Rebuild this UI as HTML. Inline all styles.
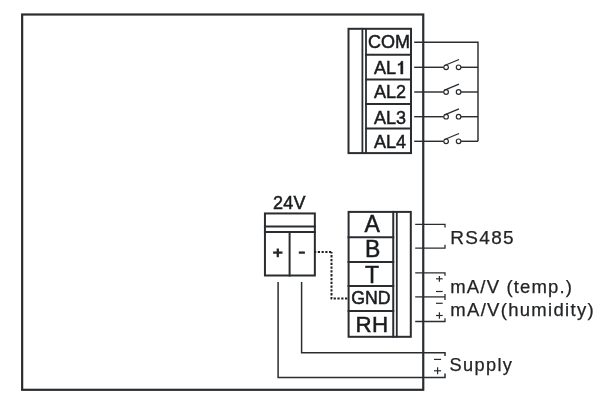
<!DOCTYPE html>
<html>
<head>
<meta charset="utf-8">
<style>
html,body{margin:0;padding:0;background:#fff;}
body{width:614px;height:404px;overflow:hidden;position:relative;}
svg{position:absolute;left:0;top:0;will-change:transform;}
text{font-family:"Liberation Sans", sans-serif;fill:#191b1d;stroke:#191b1d;stroke-width:0.5px;}
</style>
</head>
<body>
<svg width="614" height="404" viewBox="0 0 614 404">
<g fill="none" stroke="#2a2d30" stroke-linecap="square">
  <!-- main box -->
  <rect x="22.15" y="14.5" width="401.1" height="375.3" stroke-width="2.2"/>

  <!-- upper terminal block -->
  <rect x="348.5" y="28.8" width="62.5" height="124.3" stroke-width="2"/>
  <line x1="362.4" y1="28.8" x2="362.4" y2="153.1" stroke-width="1.8"/>
  <line x1="366" y1="28.8" x2="366" y2="153.1" stroke-width="1.8"/>
  <line x1="366" y1="54.7" x2="411" y2="54.7" stroke-width="2"/>
  <line x1="366" y1="79.6" x2="411" y2="79.6" stroke-width="2"/>
  <line x1="366" y1="104" x2="411" y2="104" stroke-width="2"/>
  <line x1="366" y1="128.6" x2="411" y2="128.6" stroke-width="2"/>
</g>

<g fill="none" stroke="#2a2d30" stroke-width="1.45">
  <!-- upper wires -->
  <polyline points="414.2,42.3 478,42.3 478,141.3"/>
  <line x1="414.2" y1="67.3" x2="443.6" y2="67.3"/>
  <line x1="461" y1="67.3" x2="478" y2="67.3"/>
  <line x1="414.2" y1="92" x2="443.6" y2="92"/>
  <line x1="461" y1="92" x2="478" y2="92"/>
  <line x1="414.2" y1="116.7" x2="443.6" y2="116.7"/>
  <line x1="461" y1="116.7" x2="478" y2="116.7"/>
  <line x1="414.2" y1="141.3" x2="443.6" y2="141.3"/>
  <line x1="461" y1="141.3" x2="478" y2="141.3"/>
  <!-- switches -->
  <g transform="translate(0,0)">
    <circle cx="446.1" cy="67.3" r="2.3" stroke-width="1.2"/>
    <circle cx="458.6" cy="67.3" r="2.3" stroke-width="1.2"/>
    <line x1="444.6" y1="65.5" x2="459" y2="59.5" stroke-width="1.35"/>
  </g>
  <g transform="translate(0,24.7)">
    <circle cx="446.1" cy="67.3" r="2.3" stroke-width="1.2"/>
    <circle cx="458.6" cy="67.3" r="2.3" stroke-width="1.2"/>
    <line x1="444.6" y1="65.5" x2="459" y2="59.5" stroke-width="1.35"/>
  </g>
  <g transform="translate(0,49.4)">
    <circle cx="446.1" cy="67.3" r="2.3" stroke-width="1.2"/>
    <circle cx="458.6" cy="67.3" r="2.3" stroke-width="1.2"/>
    <line x1="444.6" y1="65.5" x2="459" y2="59.5" stroke-width="1.35"/>
  </g>
  <g transform="translate(0,74)">
    <circle cx="446.1" cy="67.3" r="2.3" stroke-width="1.2"/>
    <circle cx="458.6" cy="67.3" r="2.3" stroke-width="1.2"/>
    <line x1="444.6" y1="65.5" x2="459" y2="59.5" stroke-width="1.35"/>
  </g>
</g>

<text x="368" y="48" font-size="18">COM</text>
<text x="374" y="74.1" font-size="18">AL</text>
<path d="M400.7,74.1 L402.9,74.1 L402.9,61.2 L401.2,61.2 C400.9,62.6 399.9,63.7 398.1,63.9 L398.1,65.4 C399.2,65.3 400.1,65 400.7,64.5 Z" fill="#191b1d" stroke="#191b1d" stroke-width="0.45"/>
<text x="374" y="98" font-size="18">AL2</text>
<text x="374" y="123.5" font-size="18">AL3</text>
<text x="374" y="148" font-size="18">AL4</text>

<!-- 24V connector -->
<g fill="none" stroke="#2a2d30" stroke-width="2" stroke-linecap="square">
  <rect x="264.95" y="213.45" width="49.9" height="62.05"/>
  <line x1="264.95" y1="226.5" x2="314.85" y2="226.5"/>
  <line x1="264.95" y1="232.1" x2="314.85" y2="232.1"/>
  <line x1="289.6" y1="232.1" x2="289.6" y2="275.5"/>
</g>
<g stroke="#26292c" stroke-width="2.3">
  <line x1="273.1" y1="252.6" x2="282.5" y2="252.6"/>
  <line x1="277.8" y1="248.5" x2="277.8" y2="257.2"/>
  <line x1="298.8" y1="252.6" x2="304.9" y2="252.6"/>
</g>
<text x="273" y="208.5" font-size="18" letter-spacing="0.3">24V</text>

<!-- dotted -->
<path d="M314.05,252.05 H332.4" fill="none" stroke="#1f2224" stroke-width="2" stroke-dasharray="2.2,1.55"/>
<path d="M331.5,252.1 V298.6 H347.5" fill="none" stroke="#1f2224" stroke-width="2" stroke-dasharray="2.3,1.5" stroke-dashoffset="16"/>

<!-- supply wires -->
<g fill="none" stroke="#2a2d30" stroke-width="1.5">
  <polyline points="278.1,282 278.1,377.4 445,377.4 445,373.6"/>
  <polyline points="301.6,282 301.6,352.8 445,352.8 445,356.1"/>
</g>

<!-- lower terminal block -->
<g fill="none" stroke="#2a2d30" stroke-linecap="square">
  <rect x="348.6" y="211.9" width="62.2" height="124.9" stroke-width="2"/>
  <line x1="393.25" y1="211.9" x2="393.25" y2="336.8" stroke-width="2"/>
  <line x1="396.8" y1="211.9" x2="396.8" y2="336.8" stroke-width="1.8"/>
  <line x1="348.6" y1="237.3" x2="393.2" y2="237.3" stroke-width="2"/>
  <line x1="348.6" y1="262" x2="393.2" y2="262" stroke-width="2"/>
  <line x1="348.6" y1="286" x2="393.2" y2="286" stroke-width="2"/>
  <line x1="348.6" y1="311" x2="393.2" y2="311" stroke-width="2"/>
</g>
<text x="364.4" y="232.2" font-size="23">A</text>
<text x="365" y="257" font-size="23">B</text>
<text x="365" y="282.5" font-size="23">T</text>
<text x="351.3" y="304.3" font-size="17.7">GND</text>
<text x="355.6" y="332.4" font-size="22.3" letter-spacing="0.4">RH</text>

<!-- lower wires -->
<g fill="none" stroke="#2a2d30" stroke-width="1.3">
  <polyline points="415.2,224.4 445,224.4 445,227.4"/>
  <polyline points="415.2,248.2 445,248.2 445,244.7"/>
  <polyline points="415.2,272.9 445,272.9 445,275.7"/>
  <line x1="415.2" y1="296.9" x2="445" y2="296.9"/>
  <line x1="445" y1="294" x2="445" y2="300"/>
  <polyline points="415.2,321.5 445,321.5 445,318.2"/>
</g>
<g stroke="#2a2d30" stroke-width="1.2">
  <line x1="436" y1="278.8" x2="442.7" y2="278.8"/><line x1="439.4" y1="275.9" x2="439.4" y2="281.8"/>
  <line x1="436" y1="291.5" x2="442.7" y2="291.5"/>
  <line x1="436" y1="303.3" x2="442.7" y2="303.3"/>
  <line x1="436" y1="315.5" x2="442.7" y2="315.5"/><line x1="439.4" y1="312.3" x2="439.4" y2="318.7"/>
  <line x1="434" y1="359.4" x2="441.1" y2="359.4"/>
  <line x1="434" y1="370.8" x2="441.1" y2="370.8"/><line x1="437.6" y1="367.2" x2="437.6" y2="374.3"/>
</g>

<text x="450.3" y="243.8" font-size="19" letter-spacing="1.3" style="stroke-width:0.25px;fill:#222426;stroke:#222426">RS485</text>
<text x="450.3" y="292.7" font-size="18.5" letter-spacing="1.15" style="stroke-width:0.25px;fill:#222426;stroke:#222426">mA/V (temp.)</text>
<text x="450.3" y="316" font-size="18.5" letter-spacing="1.3" style="stroke-width:0.25px;fill:#222426;stroke:#222426">mA/V(humidity)</text>
<text x="449.5" y="371.4" font-size="18.2" letter-spacing="1.35" style="stroke-width:0.25px;fill:#222426;stroke:#222426">Supply</text>
</svg>
</body>
</html>
